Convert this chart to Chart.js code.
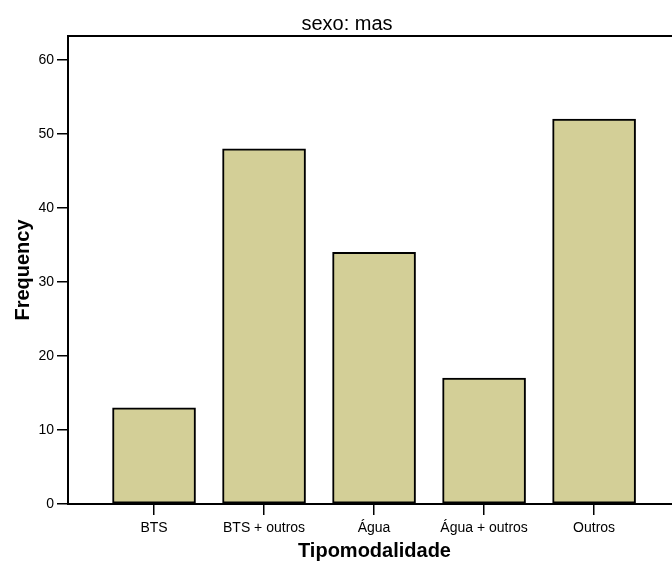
<!DOCTYPE html>
<html><head><meta charset="utf-8">
<script src="https://cdn.jsdelivr.net/npm/chart.js@4"></script>
<style>html,body{margin:0;padding:0;overflow:hidden;background:#fff;width:672px;height:563px}#wrap{width:700px;height:563px}</style>
</head><body><div id="wrap"><canvas id="c" width="700" height="563"></canvas></div>
<script>
const categories = ["BTS", "BTS + outros", "Água", "Água + outros", "Outros"];
const frequencies = [13, 48, 34, 17, 52];
const yTicks = [0, 10, 20, 30, 40, 50, 60];
const chartTitle = "sexo: mas";
const xTitle = "Tipomodalidade";
const yTitle = "Frequency";

const FONT = "'Liberation Sans', Arial, sans-serif";
const framePlugin = {
  id: 'frame',
  afterDraw(chart) {
    const {ctx, chartArea} = chart;
    ctx.save();
    ctx.strokeStyle = '#000';
    ctx.lineWidth = 2;
    ctx.beginPath();
    ctx.moveTo(chartArea.left - 1, chartArea.top);
    ctx.lineTo(chartArea.right, chartArea.top);
    ctx.stroke();
    ctx.fillStyle = '#000';
    ctx.font = "20px " + FONT;
    ctx.textAlign = 'center';
    ctx.textBaseline = 'alphabetic';
    ctx.fillText(chartTitle, 347, 30);
    ctx.translate(29, (chartArea.top + chartArea.bottom) / 2);
    ctx.rotate(-Math.PI / 2);
    ctx.font = "bold 20px " + FONT;
    ctx.fillText(yTitle, 0, 0);
    ctx.restore();
  }
};

new Chart(document.getElementById('c'), {
  type: 'bar',
  data: {
    datasets: [{
      data: frequencies.map((v, i) => ({x: i, y: v})),
      backgroundColor: '#d3cf97',
      borderColor: '#000',
      borderWidth: 2,
      barThickness: 83,
      borderSkipped: false
    }]
  },
  plugins: [framePlugin],
  options: {
    responsive: false,
    animation: false,
    layout: {padding: {left: 0, right: 19, top: 36, bottom: 0}},
    plugins: {
      legend: {display: false},
      tooltip: {enabled: false},
      title: {display: false}
    },
    scales: {
      x: {
        type: 'linear',
        offset: false,
        min: -0.782, max: 4.79,
        afterBuildTicks: s => { s.ticks = categories.map((_, i) => ({value: i})); },
        afterFit: s => { s.height = 59; },
        ticks: {
          autoSkip: false, maxRotation: 0, padding: 5, color: '#000',
          font: {family: FONT, size: 14},
          callback: (v) => categories[v]
        },
        grid: {offset: false, drawOnChartArea: false, drawTicks: true, tickLength: 11, color: '#000', lineWidth: 1.5},
        border: {display: true, color: '#000', width: 2},
        title: {display: true, text: xTitle, color: '#000',
          font: {family: FONT, size: 20, weight: 'bold'}, padding: {top: 0, bottom: 0}}
      },
      y: {
        min: 0, max: 63.24,
        afterBuildTicks: s => { s.ticks = yTicks.map(v => ({value: v})); },
        afterFit: s => { s.width = 68; },
        ticks: {padding: 3, color: '#000', font: {family: FONT, size: 14}},
        grid: {drawOnChartArea: false, drawTicks: true, tickLength: 11, color: '#000', lineWidth: 1.5},
        border: {display: true, color: '#000', width: 2},
        title: {display: false}
      }
    }
  }
});
</script></body></html>
